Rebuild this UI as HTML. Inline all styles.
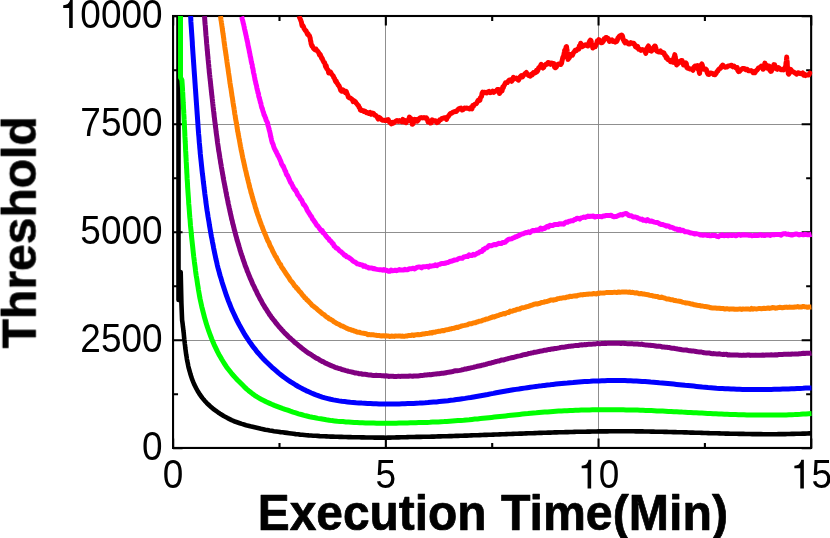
<!DOCTYPE html>
<html><head><meta charset="utf-8"><title>chart</title>
<style>
html,body{margin:0;padding:0;background:#fff;}
body{width:830px;height:538px;overflow:hidden;font-family:"Liberation Sans",sans-serif;}
svg{display:block;}
</style></head>
<body>
<svg width="830" height="538" viewBox="0 0 830 538">
<rect width="830" height="538" fill="#ffffff"/>
<defs><clipPath id="c"><rect x="171.85000000000002" y="16.0" width="640.3999999999999" height="431.95"/></clipPath></defs>
<path d="M385.5,16.0 V447.95 M598.5,16.0 V447.95 M173.05,124.5 H811.15 M173.05,232.5 H811.15 M173.05,340.5 H811.15" stroke="#828282" stroke-width="0.9" fill="none"/>
<path d="M173.15,447.95 v-9.5 M173.15,16.0 v9.5 M279.50,447.95 v-5.0 M279.50,16.0 v5.0 M385.85,447.95 v-9.5 M385.85,16.0 v9.5 M492.20,447.95 v-5.0 M492.20,16.0 v5.0 M598.55,447.95 v-9.5 M598.55,16.0 v9.5 M704.90,447.95 v-5.0 M704.90,16.0 v5.0 M811.25,447.95 v-9.5 M811.25,16.0 v9.5 M173.05,448.25 h9.5 M811.15,448.25 h-9.5 M173.05,394.26 h5.0 M811.15,394.26 h-5.0 M173.05,340.26 h9.5 M811.15,340.26 h-9.5 M173.05,286.27 h5.0 M811.15,286.27 h-5.0 M173.05,232.28 h9.5 M811.15,232.28 h-9.5 M173.05,178.28 h5.0 M811.15,178.28 h-5.0 M173.05,124.29 h9.5 M811.15,124.29 h-9.5 M173.05,70.29 h5.0 M811.15,70.29 h-5.0 M173.05,16.30 h9.5 M811.15,16.30 h-9.5" stroke="#000" stroke-width="2.1" fill="none"/>
<rect x="173.05" y="16.0" width="638.10" height="431.95" fill="none" stroke="#000" stroke-width="2.1"/>
<g clip-path="url(#c)" fill="none" stroke-linejoin="round" stroke-linecap="butt">
<path d="M178.5,10.0 L178.5,300.0 L180.7,272.0 L181.4,303.0 L182.1,320.1 L182.4,322.2 L182.7,324.3 L182.9,326.4 L183.2,328.5 L183.4,330.7 L183.7,332.8 L183.9,335.0 L184.1,337.2 L184.3,339.3 L184.6,341.5 L184.8,343.7 L185.1,345.9 L185.3,348.1 L185.6,350.3 L185.9,352.5 L186.2,354.7 L186.6,356.9 L186.9,359.1 L187.3,361.3 L187.8,363.5 L188.2,365.7 L188.7,367.9 L189.3,370.0 L189.9,372.2 L190.5,374.3 L191.2,376.5 L191.9,378.6 L192.7,380.7 L193.5,382.7 L194.4,384.8 L195.4,386.8 L196.4,388.7 L197.5,390.7 L198.6,392.5 L199.8,394.4 L201.0,396.1 L202.3,397.9 L203.7,399.6 L205.1,401.2 L206.6,402.8 L208.1,404.3 L209.7,405.8 L211.3,407.2 L212.9,408.6 L214.6,409.9 L216.4,411.2 L218.2,412.5 L220.0,413.7 L221.8,414.8 L223.7,416.0 L225.6,417.0 L227.6,418.1 L229.6,419.1 L231.6,420.1 L233.6,421.0 L235.6,421.8 L237.7,422.5 L239.8,423.2 L241.8,423.9 L243.9,424.5 L246.1,425.2 L248.2,425.7 L250.3,426.3 L252.5,426.8 L254.6,427.3 L256.7,427.8 L258.9,428.3 L261.0,428.8 L263.2,429.2 L265.3,429.7 L267.5,430.1 L269.6,430.5 L271.8,430.8 L274.0,431.2 L276.1,431.5 L278.3,431.8 L280.5,432.1 L282.6,432.3 L284.8,432.6 L287.0,432.9 L289.2,433.2 L291.4,433.5 L293.5,433.8 L295.7,434.1 L297.9,434.3 L300.1,434.6 L302.3,434.8 L304.5,435.0 L306.7,435.2 L308.8,435.4 L311.0,435.5 L313.2,435.7 L315.4,435.8 L317.6,435.9 L319.8,436.1 L322.0,436.2 L324.2,436.3 L326.4,436.4 L328.6,436.5 L330.8,436.6 L333.0,436.6 L335.2,436.7 L337.4,436.8 L339.6,436.9 L341.7,436.9 L343.9,437.0 L346.1,437.0 L348.3,437.1 L350.5,437.1 L352.7,437.2 L354.9,437.2 L357.1,437.3 L359.3,437.3 L361.5,437.4 L363.7,437.4 L365.9,437.5 L368.1,437.5 L370.3,437.5 L372.5,437.5 L374.7,437.6 L376.9,437.6 L379.1,437.6 L381.3,437.6 L383.5,437.6 L385.7,437.7 L387.9,437.6 L390.0,437.6 L392.2,437.5 L394.4,437.5 L396.6,437.4 L398.8,437.4 L401.0,437.3 L403.2,437.2 L405.4,437.2 L407.6,437.1 L409.8,437.0 L412.0,437.0 L414.2,437.0 L416.4,436.9 L418.6,436.9 L420.8,436.9 L423.0,436.8 L425.2,436.8 L427.4,436.7 L429.6,436.7 L431.8,436.6 L433.9,436.6 L436.1,436.5 L438.3,436.4 L440.5,436.4 L442.7,436.3 L444.9,436.3 L447.1,436.2 L449.3,436.1 L451.5,436.1 L453.7,436.0 L455.9,435.9 L458.1,435.9 L460.3,435.8 L462.5,435.7 L464.7,435.6 L466.9,435.6 L469.1,435.5 L471.3,435.4 L473.5,435.3 L475.6,435.3 L477.8,435.2 L480.0,435.1 L482.2,435.0 L484.4,434.9 L486.6,434.9 L488.8,434.8 L491.0,434.7 L493.2,434.6 L495.4,434.5 L497.6,434.5 L499.8,434.4 L502.0,434.3 L504.2,434.2 L506.4,434.1 L508.6,434.0 L510.8,434.0 L513.0,433.9 L515.1,433.8 L517.3,433.7 L519.5,433.6 L521.7,433.6 L523.9,433.5 L526.1,433.4 L528.3,433.3 L530.5,433.2 L532.7,433.2 L534.9,433.1 L537.1,433.0 L539.3,432.9 L541.5,432.9 L543.7,432.8 L545.9,432.7 L548.1,432.6 L550.3,432.6 L552.5,432.5 L554.6,432.4 L556.8,432.4 L559.0,432.3 L561.2,432.2 L563.4,432.2 L565.6,432.1 L567.8,432.1 L570.0,432.0 L572.2,432.0 L574.4,431.9 L576.6,431.8 L578.8,431.8 L581.0,431.7 L583.2,431.7 L585.4,431.7 L587.6,431.6 L589.8,431.6 L592.0,431.5 L594.2,431.5 L596.3,431.5 L598.5,431.4 L600.7,431.4 L602.9,431.4 L605.1,431.4 L607.3,431.4 L609.5,431.3 L611.7,431.3 L613.9,431.3 L616.1,431.3 L618.3,431.3 L620.5,431.3 L622.7,431.3 L624.9,431.3 L627.1,431.3 L629.3,431.3 L631.5,431.3 L633.7,431.3 L635.9,431.4 L638.1,431.4 L640.2,431.4 L642.4,431.4 L644.6,431.5 L646.8,431.5 L649.0,431.5 L651.2,431.6 L653.4,431.6 L655.6,431.7 L657.8,431.7 L660.0,431.8 L662.2,431.8 L664.4,431.9 L666.6,431.9 L668.8,432.0 L671.0,432.0 L673.2,432.1 L675.4,432.1 L677.6,432.2 L679.8,432.3 L682.0,432.3 L684.2,432.4 L686.4,432.4 L688.5,432.5 L690.7,432.6 L692.9,432.6 L695.1,432.7 L697.3,432.8 L699.5,432.8 L701.7,432.9 L703.9,433.0 L706.1,433.0 L708.3,433.1 L710.5,433.2 L712.7,433.2 L714.9,433.3 L717.1,433.3 L719.3,433.4 L721.5,433.5 L723.7,433.5 L725.9,433.6 L728.1,433.6 L730.3,433.7 L732.5,433.7 L734.7,433.8 L736.9,433.8 L739.0,433.9 L741.2,433.9 L743.4,433.9 L745.6,434.0 L747.8,434.0 L750.0,434.0 L752.2,434.1 L754.4,434.1 L756.6,434.1 L758.8,434.1 L761.0,434.1 L763.2,434.2 L765.4,434.2 L767.6,434.2 L769.8,434.2 L772.0,434.2 L774.2,434.2 L776.4,434.2 L778.6,434.1 L780.8,434.1 L783.0,434.1 L785.2,434.1 L787.3,434.0 L789.5,434.0 L791.7,433.9 L793.9,433.9 L796.1,433.8 L798.3,433.8 L800.5,433.7 L802.7,433.6 L804.9,433.6 L807.1,433.5 L809.3,433.4 L811.5,433.3" stroke="#000000" stroke-width="4.6"/>
<path d="M180.5,10.0 L180.5,77.5 L181.9,79.9 L182.1,82.7 L182.3,85.6 L182.5,88.4 L182.6,91.2 L182.8,94.0 L182.9,96.8 L183.1,99.7 L183.2,102.5 L183.4,105.3 L183.5,108.1 L183.7,110.9 L183.8,113.7 L184.0,116.6 L184.1,119.4 L184.3,122.2 L184.4,125.0 L184.5,127.8 L184.7,130.6 L184.8,133.4 L184.9,136.2 L185.1,139.0 L185.2,141.8 L185.4,144.6 L185.5,147.4 L185.6,150.2 L185.8,153.0 L185.9,155.8 L186.1,158.6 L186.2,161.4 L186.4,164.2 L186.5,167.0 L186.7,169.8 L186.8,172.6 L187.0,175.4 L187.1,178.2 L187.3,181.0 L187.5,183.8 L187.6,186.6 L187.8,189.4 L188.0,192.2 L188.2,195.0 L188.4,197.8 L188.6,200.6 L188.7,203.4 L189.0,206.2 L189.2,209.0 L189.4,211.8 L189.6,214.6 L189.8,217.3 L190.1,220.1 L190.3,222.9 L190.5,225.7 L190.8,228.5 L191.1,231.3 L191.3,234.1 L191.6,236.9 L191.9,239.7 L192.2,242.5 L192.5,245.3 L192.8,248.1 L193.1,250.9 L193.4,253.7 L193.7,256.5 L194.1,259.3 L194.4,262.1 L194.8,264.9 L195.2,267.7 L195.5,270.5 L195.9,273.3 L196.3,276.1 L196.8,278.9 L197.2,281.7 L197.6,284.5 L198.1,287.3 L198.5,290.1 L199.0,292.9 L199.5,295.7 L200.0,298.5 L200.6,301.2 L201.2,304.0 L201.8,306.8 L202.5,309.5 L203.2,312.3 L203.9,315.0 L204.6,317.8 L205.4,320.5 L206.2,323.2 L207.0,325.9 L207.9,328.5 L208.8,331.2 L209.8,333.9 L210.8,336.5 L211.8,339.1 L212.9,341.7 L214.0,344.3 L215.2,346.8 L216.4,349.4 L217.6,351.9 L218.9,354.4 L220.3,356.8 L221.7,359.3 L223.2,361.7 L224.7,364.1 L226.2,366.4 L227.9,368.7 L229.7,371.0 L231.5,373.3 L233.4,375.5 L235.3,377.6 L237.2,379.7 L239.3,381.8 L241.3,383.8 L243.1,385.6 L244.9,387.4 L246.7,389.1 L248.6,390.7 L250.6,392.3 L252.6,393.9 L254.6,395.3 L256.7,396.7 L259.1,398.1 L261.6,399.5 L264.1,400.7 L266.6,402.0 L269.1,403.1 L271.7,404.3 L274.3,405.4 L276.9,406.4 L279.6,407.4 L282.3,408.4 L285.0,409.3 L287.7,410.2 L290.4,411.2 L293.1,412.1 L295.8,412.9 L298.6,413.8 L301.3,414.5 L304.1,415.3 L306.8,416.0 L309.6,416.7 L312.4,417.3 L315.1,417.8 L317.9,418.4 L320.7,418.8 L323.5,419.3 L326.3,419.8 L329.1,420.2 L331.8,420.6 L334.6,420.9 L337.4,421.2 L340.2,421.4 L343.0,421.6 L345.8,421.9 L348.6,422.0 L351.4,422.2 L354.2,422.4 L357.0,422.5 L359.8,422.7 L362.6,422.8 L365.4,422.9 L368.2,423.0 L371.0,423.1 L373.8,423.1 L376.6,423.2 L379.4,423.2 L382.2,423.3 L385.0,423.3 L387.8,423.3 L390.6,423.3 L393.4,423.2 L396.2,423.2 L399.0,423.1 L401.8,423.1 L404.7,423.0 L407.5,422.9 L410.3,422.8 L413.1,422.8 L415.9,422.7 L418.7,422.6 L421.5,422.6 L424.3,422.5 L427.1,422.4 L429.9,422.3 L432.7,422.1 L435.5,422.0 L438.3,421.9 L441.2,421.7 L444.0,421.6 L446.8,421.4 L449.6,421.2 L452.4,421.0 L455.2,420.8 L458.0,420.6 L460.8,420.4 L463.6,420.2 L466.4,419.9 L469.2,419.7 L472.0,419.4 L474.8,419.1 L477.6,418.9 L480.4,418.6 L483.2,418.3 L486.0,418.0 L488.8,417.7 L491.6,417.4 L494.3,417.1 L497.1,416.8 L499.9,416.5 L502.7,416.2 L505.5,415.9 L508.3,415.6 L511.1,415.3 L513.9,415.0 L516.7,414.7 L519.5,414.4 L522.3,414.1 L525.1,413.8 L527.9,413.6 L530.7,413.3 L533.5,413.0 L536.3,412.8 L539.1,412.5 L541.9,412.3 L544.7,412.1 L547.5,411.9 L550.3,411.7 L553.1,411.5 L555.9,411.3 L558.7,411.1 L561.5,410.9 L564.3,410.8 L567.1,410.7 L569.9,410.5 L572.7,410.4 L575.5,410.3 L578.4,410.2 L581.2,410.1 L584.0,410.0 L586.8,409.9 L589.6,409.9 L592.4,409.8 L595.2,409.8 L598.0,409.7 L600.8,409.7 L603.6,409.7 L606.5,409.7 L609.3,409.7 L612.1,409.7 L614.9,409.7 L617.7,409.7 L620.5,409.8 L623.3,409.8 L626.1,409.9 L628.9,409.9 L631.7,410.0 L634.6,410.1 L637.4,410.1 L640.2,410.2 L643.0,410.3 L645.8,410.4 L648.6,410.5 L651.4,410.6 L654.2,410.7 L657.0,410.9 L659.8,411.0 L662.6,411.1 L665.5,411.2 L668.3,411.4 L671.1,411.5 L673.9,411.7 L676.7,411.8 L679.5,411.9 L682.3,412.1 L685.1,412.2 L687.9,412.4 L690.7,412.5 L693.5,412.7 L696.3,412.8 L699.1,413.0 L701.9,413.1 L704.7,413.2 L707.6,413.4 L710.4,413.5 L713.2,413.7 L716.0,413.8 L718.8,413.9 L721.6,414.0 L724.4,414.2 L727.2,414.3 L730.0,414.4 L732.8,414.5 L735.6,414.6 L738.4,414.7 L741.2,414.8 L744.0,414.8 L746.9,414.9 L749.7,415.0 L752.5,415.0 L755.3,415.1 L758.1,415.1 L760.9,415.1 L763.7,415.1 L766.5,415.1 L769.3,415.1 L772.1,415.1 L774.9,415.1 L777.8,415.1 L780.6,415.0 L783.4,414.9 L786.2,414.9 L789.0,414.8 L791.8,414.7 L794.6,414.6 L797.4,414.4 L800.3,414.3 L803.1,414.1 L805.9,414.0 L808.7,413.8 L811.5,413.6" stroke="#00ff00" stroke-width="5.0"/>
<path d="M190.6,16.0 L190.8,19.0 L190.9,21.9 L191.1,24.8 L191.3,27.7 L191.5,30.6 L191.7,33.5 L191.9,36.4 L192.1,39.3 L192.3,42.2 L192.4,45.1 L192.6,48.0 L192.8,50.9 L193.0,53.8 L193.2,56.7 L193.4,59.6 L193.6,62.5 L193.8,65.3 L194.0,68.2 L194.2,71.1 L194.4,74.0 L194.6,76.8 L194.8,79.7 L195.0,82.6 L195.2,85.4 L195.4,88.3 L195.6,91.2 L195.8,94.0 L196.0,96.9 L196.2,99.7 L196.4,102.6 L196.6,105.4 L196.8,108.3 L197.0,111.1 L197.2,114.0 L197.4,116.8 L197.6,119.7 L197.8,122.5 L198.0,125.4 L198.2,128.2 L198.4,131.1 L198.6,133.9 L198.9,136.8 L199.1,139.6 L199.3,142.4 L199.6,145.3 L199.8,148.1 L200.1,151.0 L200.3,153.8 L200.6,156.7 L200.9,159.5 L201.2,162.3 L201.5,165.2 L201.8,168.0 L202.1,170.9 L202.4,173.7 L202.8,176.6 L203.1,179.4 L203.4,182.2 L203.8,185.1 L204.1,187.9 L204.5,190.8 L204.8,193.6 L205.2,196.5 L205.6,199.3 L205.9,202.2 L206.3,205.0 L206.7,207.9 L207.1,210.7 L207.6,213.6 L208.0,216.4 L208.5,219.3 L209.0,222.2 L209.4,225.0 L209.9,227.9 L210.4,230.7 L210.9,233.6 L211.4,236.5 L212.0,239.3 L212.5,242.2 L213.1,245.1 L213.6,247.9 L214.2,250.8 L214.8,253.7 L215.4,256.5 L216.0,259.4 L216.7,262.2 L217.3,265.1 L218.0,267.9 L218.8,270.7 L219.5,273.5 L220.3,276.3 L221.2,279.1 L222.0,281.9 L222.9,284.7 L223.8,287.5 L224.7,290.2 L225.6,293.0 L226.5,295.7 L227.5,298.4 L228.5,301.1 L229.6,303.8 L230.6,306.4 L231.7,309.1 L232.9,311.7 L234.1,314.3 L235.3,316.9 L236.5,319.5 L237.8,322.0 L239.1,324.5 L240.5,327.0 L241.9,329.5 L243.3,332.0 L244.7,334.4 L246.2,336.8 L247.8,339.1 L249.3,341.5 L251.0,343.8 L252.6,346.1 L254.4,348.3 L256.1,350.6 L257.9,352.8 L259.8,354.9 L261.7,357.1 L263.7,359.2 L265.7,361.2 L267.8,363.2 L269.9,365.2 L272.0,367.3 L274.2,369.2 L276.5,371.2 L278.7,373.1 L281.1,375.0 L283.4,376.8 L285.8,378.5 L288.2,380.2 L290.7,381.9 L293.2,383.4 L295.7,385.0 L298.2,386.5 L300.8,387.9 L303.4,389.3 L306.0,390.6 L308.7,391.8 L311.4,393.0 L314.1,394.1 L316.8,395.2 L319.5,396.2 L322.2,397.1 L325.0,397.9 L327.8,398.6 L330.6,399.3 L333.4,399.9 L336.2,400.4 L339.0,400.9 L341.8,401.3 L344.7,401.6 L347.5,401.9 L350.4,402.2 L353.2,402.4 L356.1,402.7 L359.0,402.9 L361.8,403.1 L364.7,403.2 L367.6,403.4 L370.4,403.5 L373.3,403.7 L376.2,403.8 L379.0,403.9 L381.9,404.0 L384.8,404.0 L387.7,404.1 L390.5,404.1 L393.4,404.0 L396.3,404.0 L399.2,403.9 L402.0,403.8 L404.9,403.7 L407.8,403.6 L410.6,403.5 L413.5,403.4 L416.4,403.2 L419.3,403.1 L422.1,402.9 L425.0,402.8 L427.9,402.6 L430.7,402.3 L433.6,402.1 L436.5,401.9 L439.3,401.6 L442.2,401.3 L445.1,401.0 L447.9,400.7 L450.8,400.3 L453.6,400.0 L456.5,399.6 L459.3,399.2 L462.2,398.8 L465.0,398.4 L467.9,397.9 L470.7,397.5 L473.6,397.0 L476.4,396.5 L479.2,396.0 L482.1,395.5 L484.9,395.0 L487.7,394.5 L490.5,393.9 L493.4,393.4 L496.2,392.8 L499.0,392.3 L501.8,391.8 L504.7,391.3 L507.5,390.8 L510.3,390.3 L513.2,389.8 L516.0,389.4 L518.8,389.0 L521.7,388.5 L524.5,388.1 L527.3,387.7 L530.2,387.3 L533.0,386.9 L535.9,386.5 L538.7,386.1 L541.6,385.8 L544.4,385.4 L547.3,385.1 L550.2,384.8 L553.0,384.4 L555.9,384.1 L558.7,383.8 L561.6,383.5 L564.5,383.2 L567.3,383.0 L570.2,382.7 L573.1,382.5 L576.0,382.2 L578.8,382.0 L581.7,381.8 L584.6,381.6 L587.5,381.4 L590.3,381.3 L593.2,381.1 L596.1,381.0 L599.0,380.9 L601.9,380.8 L604.7,380.7 L607.6,380.6 L610.5,380.6 L613.4,380.6 L616.2,380.6 L619.1,380.6 L622.0,380.6 L624.9,380.6 L627.7,380.7 L630.6,380.8 L633.5,380.9 L636.4,381.0 L639.2,381.2 L642.1,381.4 L645.0,381.5 L647.8,381.7 L650.7,382.0 L653.6,382.2 L656.4,382.4 L659.3,382.7 L662.2,382.9 L665.0,383.2 L667.9,383.5 L670.8,383.8 L673.6,384.1 L676.5,384.4 L679.4,384.7 L682.2,385.0 L685.1,385.3 L687.9,385.5 L690.8,385.8 L693.7,386.1 L696.5,386.4 L699.4,386.7 L702.3,387.0 L705.1,387.2 L708.0,387.5 L710.9,387.7 L713.7,387.9 L716.6,388.2 L719.5,388.4 L722.3,388.5 L725.2,388.7 L728.1,388.8 L731.0,389.0 L733.8,389.1 L736.7,389.2 L739.6,389.3 L742.5,389.4 L745.3,389.4 L748.2,389.5 L751.1,389.5 L754.0,389.5 L756.8,389.5 L759.7,389.5 L762.6,389.5 L765.5,389.5 L768.4,389.4 L771.2,389.4 L774.1,389.3 L777.0,389.2 L779.9,389.2 L782.7,389.1 L785.6,389.0 L788.5,388.9 L791.4,388.8 L794.3,388.7 L797.1,388.5 L800.0,388.4 L802.9,388.3 L805.8,388.1 L808.6,388.0 L811.5,387.9" stroke="#0000ff" stroke-width="5.0"/>
<path d="M204.5,16.1 L204.6,17.5 L204.7,19.0 L204.8,20.5 L204.9,21.9 L205.0,23.2 L205.1,24.5 L205.3,25.9 L205.4,27.5 L205.5,29.0 L205.6,30.2 L205.7,31.4 L205.8,32.9 L205.9,34.6 L206.0,35.8 L206.2,37.0 L206.3,38.5 L206.4,39.8 L206.5,41.3 L206.6,42.7 L206.7,44.0 L206.9,45.6 L207.0,46.9 L207.1,48.2 L207.2,49.8 L207.4,51.2 L207.5,52.3 L207.6,53.9 L207.7,55.2 L207.9,56.7 L208.0,57.9 L208.1,59.5 L208.3,60.9 L208.4,62.2 L208.5,63.5 L208.7,65.0 L208.8,66.3 L208.9,67.7 L209.1,69.3 L209.2,70.5 L209.3,72.2 L209.5,73.5 L209.6,74.6 L209.8,76.2 L209.9,77.5 L210.1,79.0 L210.2,80.4 L210.4,81.5 L210.5,83.1 L210.7,84.5 L210.8,86.1 L211.0,87.2 L211.1,88.8 L211.3,90.0 L211.4,91.5 L211.6,92.8 L211.7,94.5 L211.9,95.7 L212.1,97.4 L212.2,98.5 L212.4,100.0 L212.5,101.3 L212.7,102.6 L212.8,104.0 L213.0,105.6 L213.1,106.8 L213.3,108.2 L213.4,109.6 L213.6,111.1 L213.8,112.3 L213.9,113.7 L214.1,115.2 L214.2,116.6 L214.4,117.8 L214.6,119.4 L214.7,120.6 L214.9,122.0 L215.1,123.3 L215.3,125.0 L215.4,126.2 L215.6,127.5 L215.8,128.9 L216.0,130.5 L216.1,131.7 L216.3,133.1 L216.5,134.7 L216.7,135.8 L216.9,137.3 L217.1,138.8 L217.2,140.1 L217.4,141.5 L217.6,143.1 L217.8,144.3 L218.0,145.6 L218.2,146.9 L218.4,148.4 L218.6,149.8 L218.8,151.3 L219.1,152.6 L219.3,153.9 L219.5,155.3 L219.7,156.7 L219.9,158.2 L220.2,159.5 L220.4,160.9 L220.6,162.5 L220.8,163.7 L221.1,164.9 L221.3,166.6 L221.5,167.9 L221.8,169.1 L222.0,170.7 L222.3,172.0 L222.5,173.3 L222.7,174.6 L223.0,176.0 L223.2,177.5 L223.5,179.0 L223.7,180.2 L224.0,181.7 L224.3,183.2 L224.5,184.2 L224.8,185.8 L225.0,187.1 L225.3,188.4 L225.6,189.7 L225.8,191.2 L226.1,192.7 L226.4,193.9 L226.6,195.4 L226.9,196.8 L227.2,198.1 L227.5,199.6 L227.8,200.9 L228.0,202.3 L228.3,203.8 L228.6,205.0 L228.9,206.3 L229.2,207.8 L229.5,208.9 L229.8,210.4 L230.1,211.9 L230.4,213.2 L230.7,214.7 L231.0,215.9 L231.3,217.1 L231.6,218.9 L232.0,220.1 L232.3,221.2 L232.6,222.9 L232.9,224.1 L233.3,225.2 L233.6,226.7 L234.0,228.1 L234.3,229.7 L234.7,230.8 L235.0,232.2 L235.4,233.5 L235.7,234.9 L236.1,236.2 L236.5,237.6 L236.8,239.1 L237.2,240.4 L237.6,241.6 L238.0,242.9 L238.4,244.4 L238.8,245.6 L239.2,247.0 L239.6,248.2 L240.0,250.0 L240.4,251.2 L240.8,252.3 L241.2,253.8 L241.7,255.2 L242.1,256.1 L242.5,257.6 L243.0,259.0 L243.4,260.4 L243.9,261.7 L244.4,263.0 L244.8,264.3 L245.3,265.9 L245.8,267.2 L246.3,268.2 L246.8,269.5 L247.3,271.2 L247.8,272.1 L248.3,273.4 L248.8,274.8 L249.4,276.1 L249.9,277.5 L250.4,278.7 L251.0,279.8 L251.6,281.3 L252.1,282.5 L252.7,284.0 L253.3,285.1 L253.9,286.2 L254.5,287.5 L255.1,289.0 L255.7,290.1 L256.3,291.1 L256.9,292.6 L257.5,293.9 L258.2,295.3 L258.8,296.3 L259.5,297.7 L260.1,299.0 L260.8,300.0 L261.5,301.3 L262.2,302.7 L262.9,304.0 L263.6,305.1 L264.3,306.2 L265.0,307.5 L265.7,308.5 L266.5,309.7 L267.2,310.8 L268.0,312.1 L268.8,313.2 L269.6,314.7 L270.4,315.5 L271.2,316.9 L272.0,318.0 L272.8,318.9 L273.7,320.2 L274.5,320.9 L275.4,322.3 L276.3,323.5 L277.1,324.2 L278.0,325.4 L278.9,326.7 L279.9,327.6 L280.8,328.6 L281.7,329.7 L282.7,330.7 L283.7,331.9 L284.6,332.9 L285.6,333.8 L286.6,334.7 L287.6,335.8 L288.6,336.9 L289.6,337.7 L290.7,338.7 L291.7,339.6 L292.7,340.4 L293.8,341.4 L294.8,342.5 L295.9,343.3 L296.9,344.1 L298.0,344.9 L299.1,346.0 L300.2,346.8 L301.3,347.7 L302.4,348.6 L303.5,349.5 L304.6,350.3 L305.8,351.2 L306.9,352.0 L308.1,352.9 L309.2,353.6 L310.4,354.2 L311.6,355.0 L312.7,355.8 L313.9,356.5 L315.1,357.3 L316.3,358.1 L317.5,358.6 L318.7,359.2 L320.0,360.2 L321.2,360.8 L322.4,361.5 L323.7,361.9 L324.9,362.9 L326.2,363.4 L327.4,363.9 L328.7,364.5 L329.9,365.2 L331.2,365.7 L332.5,366.2 L333.8,366.6 L335.1,367.4 L336.4,367.7 L337.8,368.2 L339.1,368.6 L340.4,368.8 L341.8,369.5 L343.1,369.8 L344.5,370.2 L345.8,370.6 L347.2,370.9 L348.5,371.4 L349.9,371.6 L351.2,371.9 L352.6,372.2 L354.0,372.6 L355.3,373.0 L356.7,373.1 L358.1,373.3 L359.5,373.8 L360.9,373.7 L362.2,374.2 L363.6,374.2 L365.0,374.3 L366.4,374.5 L367.8,374.8 L369.2,375.0 L370.6,375.0 L372.0,375.3 L373.4,375.5 L374.8,375.4 L376.2,375.3 L377.6,375.4 L379.0,375.5 L380.4,375.6 L381.8,375.7 L383.2,375.7 L384.6,376.0 L386.0,375.7 L387.3,375.9 L388.7,376.4 L390.1,376.3 L391.5,376.3 L392.9,376.3 L394.3,376.5 L395.7,376.4 L397.1,376.4 L398.5,376.2 L399.9,376.4 L401.3,376.3 L402.7,376.3 L404.1,376.3 L405.5,376.3 L406.9,376.2 L408.3,376.3 L409.7,376.0 L411.1,376.1 L412.5,376.3 L413.9,376.0 L415.3,376.1 L416.7,376.0 L418.1,375.9 L419.5,375.8 L420.9,375.4 L422.3,375.4 L423.7,375.3 L425.1,375.0 L426.5,375.0 L427.9,374.8 L429.3,374.6 L430.7,374.7 L432.1,374.5 L433.5,374.3 L434.9,374.1 L436.2,374.0 L437.6,373.8 L439.0,373.7 L440.4,373.5 L441.8,373.3 L443.2,373.2 L444.6,373.0 L446.0,372.8 L447.3,372.4 L448.7,372.2 L450.1,372.1 L451.5,371.8 L452.9,371.6 L454.2,371.0 L455.6,370.7 L457.0,370.8 L458.4,370.6 L459.7,370.4 L461.1,370.1 L462.5,369.7 L463.9,369.4 L465.2,369.0 L466.6,368.9 L468.0,368.5 L469.3,368.3 L470.7,367.9 L472.0,367.6 L473.4,367.4 L474.8,366.9 L476.1,366.6 L477.5,366.2 L478.9,365.9 L480.2,365.8 L481.6,365.3 L482.9,365.1 L484.3,364.7 L485.7,364.4 L487.0,364.0 L488.4,363.5 L489.7,363.3 L491.1,363.1 L492.4,362.5 L493.8,362.2 L495.1,361.8 L496.5,361.5 L497.9,361.0 L499.2,361.0 L500.6,360.4 L501.9,359.9 L503.3,360.0 L504.6,359.6 L506.0,359.2 L507.4,358.8 L508.7,358.4 L510.1,358.1 L511.4,357.8 L512.8,357.5 L514.2,357.2 L515.5,356.8 L516.9,356.4 L518.2,356.1 L519.6,355.9 L521.0,355.6 L522.3,355.1 L523.7,354.7 L525.1,354.6 L526.4,354.3 L527.8,353.9 L529.1,353.4 L530.5,353.2 L531.9,352.9 L533.2,352.7 L534.6,352.2 L536.0,352.2 L537.4,351.8 L538.7,351.6 L540.1,351.1 L541.5,350.9 L542.8,350.8 L544.2,350.2 L545.6,350.2 L547.0,350.0 L548.3,349.5 L549.7,349.5 L551.1,349.1 L552.5,349.0 L553.9,348.7 L555.2,348.4 L556.6,348.4 L558.0,348.1 L559.4,347.9 L560.8,347.4 L562.2,347.2 L563.5,347.2 L564.9,347.0 L566.3,346.7 L567.7,346.6 L569.1,346.2 L570.5,346.2 L571.9,345.9 L573.3,345.9 L574.6,345.6 L576.0,345.4 L577.4,345.4 L578.8,345.4 L580.2,344.9 L581.6,344.8 L583.0,344.9 L584.4,344.6 L585.8,344.7 L587.2,344.4 L588.6,344.3 L590.0,344.2 L591.4,344.3 L592.8,344.1 L594.2,344.0 L595.6,343.9 L597.0,343.6 L598.4,343.6 L599.8,343.8 L601.2,343.6 L602.6,343.5 L604.0,343.5 L605.4,343.3 L606.8,343.4 L608.2,343.2 L609.6,343.3 L611.0,343.2 L612.4,343.2 L613.8,343.3 L615.2,343.2 L616.6,343.3 L618.0,343.3 L619.4,343.3 L620.8,343.5 L622.2,343.2 L623.5,343.2 L624.9,343.5 L626.3,343.6 L627.7,343.8 L629.1,343.7 L630.5,343.8 L631.9,343.6 L633.3,343.9 L634.7,344.0 L636.1,343.9 L637.5,344.0 L638.9,344.2 L640.3,344.4 L641.7,344.1 L643.1,344.6 L644.5,344.8 L645.9,344.9 L647.3,345.1 L648.7,345.2 L650.1,345.2 L651.5,345.5 L652.9,345.6 L654.2,345.7 L655.6,346.0 L657.0,346.3 L658.4,346.1 L659.8,346.3 L661.2,346.5 L662.6,347.1 L664.0,347.0 L665.4,347.2 L666.7,347.3 L668.1,347.5 L669.5,347.6 L670.9,348.0 L672.3,348.2 L673.7,348.2 L675.1,348.5 L676.4,348.7 L677.8,349.0 L679.2,349.2 L680.6,349.5 L682.0,349.8 L683.4,349.9 L684.8,350.1 L686.1,350.0 L687.5,350.3 L688.9,350.7 L690.3,350.8 L691.7,351.0 L693.1,350.9 L694.5,351.1 L695.9,351.6 L697.2,351.7 L698.6,351.9 L700.0,352.0 L701.4,352.0 L702.8,352.5 L704.2,352.7 L705.6,352.9 L707.0,352.9 L708.4,353.0 L709.7,353.1 L711.1,353.5 L712.5,353.7 L713.9,353.6 L715.3,353.8 L716.7,353.9 L718.1,354.0 L719.5,353.8 L720.9,354.2 L722.3,354.4 L723.7,354.3 L725.1,354.4 L726.5,354.2 L727.9,354.9 L729.3,354.8 L730.7,354.9 L732.1,354.9 L733.5,354.9 L734.9,355.0 L736.3,355.0 L737.7,355.1 L739.1,355.2 L740.5,355.2 L741.9,355.4 L743.3,355.1 L744.7,355.3 L746.1,355.2 L747.5,355.1 L748.9,355.0 L750.3,355.4 L751.7,355.2 L753.1,355.2 L754.5,355.3 L755.9,355.1 L757.3,355.3 L758.7,355.2 L760.1,355.3 L761.5,355.3 L762.9,355.0 L764.3,355.2 L765.7,355.1 L767.1,355.1 L768.5,355.0 L769.9,355.1 L771.3,354.8 L772.7,354.9 L774.1,355.0 L775.5,354.7 L776.9,355.0 L778.3,354.6 L779.7,354.6 L781.1,354.5 L782.5,354.4 L783.9,354.3 L785.3,354.3 L786.7,354.3 L788.1,354.1 L789.5,354.3 L790.9,354.3 L792.3,353.9 L793.6,354.1 L795.0,353.9 L796.4,353.9 L797.8,354.1 L799.2,353.8 L800.6,353.7 L802.0,353.6 L803.4,353.2 L804.8,353.5 L806.2,353.3 L807.6,353.3 L809.0,353.2 L810.4,353.3 L811.5,353.1" stroke="#800080" stroke-width="5.0"/>
<path d="M220.5,16.1 L220.7,17.6 L220.9,19.3 L221.1,20.5 L221.3,21.4 L221.5,23.1 L221.7,24.4 L221.9,25.9 L222.1,27.0 L222.3,28.7 L222.5,30.1 L222.7,31.8 L222.9,32.9 L223.1,34.3 L223.3,35.3 L223.5,37.4 L223.7,38.0 L223.9,40.0 L224.0,41.1 L224.2,42.4 L224.4,43.8 L224.6,45.2 L224.8,46.8 L225.0,48.1 L225.2,49.8 L225.4,50.5 L225.6,52.2 L225.8,53.5 L226.0,55.2 L226.2,56.0 L226.4,57.7 L226.6,59.2 L226.8,60.3 L227.0,62.1 L227.2,63.4 L227.4,64.9 L227.6,66.3 L227.8,67.3 L228.0,68.7 L228.2,70.2 L228.4,71.8 L228.6,73.2 L228.8,74.3 L229.0,75.7 L229.2,77.0 L229.4,78.5 L229.6,79.9 L229.8,81.3 L230.0,83.1 L230.2,84.0 L230.4,85.4 L230.6,87.0 L230.9,88.1 L231.1,89.6 L231.3,91.0 L231.5,92.6 L231.7,93.5 L231.9,95.5 L232.1,96.5 L232.4,98.0 L232.6,99.5 L232.8,100.8 L233.0,102.3 L233.2,103.5 L233.4,104.9 L233.6,106.3 L233.9,107.4 L234.1,109.3 L234.3,110.2 L234.5,111.5 L234.7,113.6 L234.9,114.5 L235.2,115.7 L235.4,117.7 L235.6,118.6 L235.8,120.3 L236.1,121.3 L236.3,122.8 L236.5,123.9 L236.8,125.2 L237.0,126.8 L237.2,128.3 L237.5,129.9 L237.7,131.6 L238.0,132.3 L238.2,134.1 L238.4,135.1 L238.7,136.6 L238.9,137.7 L239.2,139.1 L239.5,140.6 L239.7,141.9 L240.0,143.5 L240.2,144.7 L240.5,146.5 L240.8,147.7 L241.0,149.0 L241.3,150.6 L241.6,151.9 L241.9,153.1 L242.1,154.5 L242.4,155.8 L242.7,157.5 L243.0,158.8 L243.3,160.1 L243.6,161.5 L243.9,162.6 L244.2,164.2 L244.5,165.2 L244.8,167.1 L245.1,168.2 L245.4,169.6 L245.8,171.0 L246.1,172.3 L246.4,173.6 L246.7,175.2 L247.0,176.4 L247.4,177.5 L247.7,179.2 L248.0,180.1 L248.4,182.1 L248.7,183.1 L249.1,184.5 L249.4,186.3 L249.8,187.7 L250.1,188.6 L250.5,190.1 L250.8,191.5 L251.2,193.0 L251.6,194.0 L251.9,195.4 L252.3,196.9 L252.7,198.1 L253.1,199.5 L253.4,200.9 L253.8,201.8 L254.2,203.2 L254.6,204.2 L255.0,206.0 L255.4,207.7 L255.9,208.6 L256.3,210.4 L256.7,211.6 L257.1,212.8 L257.5,214.1 L258.0,215.5 L258.5,216.6 L258.9,218.0 L259.4,219.4 L259.9,220.8 L260.3,222.2 L260.8,223.2 L261.3,224.8 L261.8,225.8 L262.3,227.2 L262.8,228.7 L263.3,229.9 L263.8,231.2 L264.4,232.5 L264.9,233.7 L265.4,234.9 L266.0,236.3 L266.5,237.8 L267.1,238.9 L267.7,240.6 L268.2,241.5 L268.8,242.2 L269.4,243.9 L270.0,245.6 L270.6,246.6 L271.2,247.7 L271.8,248.9 L272.5,250.6 L273.1,251.8 L273.7,253.0 L274.4,254.2 L275.0,255.6 L275.7,256.7 L276.4,257.5 L277.0,259.1 L277.7,260.2 L278.4,261.4 L279.1,262.8 L279.8,263.9 L280.6,264.5 L281.3,266.6 L282.0,267.6 L282.8,268.6 L283.5,269.7 L284.3,271.0 L285.0,271.9 L285.8,273.4 L286.6,274.4 L287.4,275.6 L288.2,276.6 L289.0,277.8 L289.8,279.3 L290.6,280.5 L291.5,281.4 L292.3,282.4 L293.1,283.4 L294.0,284.8 L294.8,286.1 L295.7,286.6 L296.6,288.2 L297.5,288.6 L298.4,290.1 L299.3,291.3 L300.2,292.0 L301.1,293.0 L302.0,294.4 L303.0,295.6 L303.9,296.4 L304.8,297.8 L305.8,298.4 L306.8,299.9 L307.8,300.5 L308.7,301.6 L309.7,302.6 L310.7,303.5 L311.7,304.8 L312.8,305.8 L313.8,306.5 L314.8,307.3 L315.9,308.0 L316.9,309.0 L318.0,310.1 L319.1,310.9 L320.2,311.8 L321.2,312.7 L322.3,313.7 L323.4,314.2 L324.6,315.1 L325.7,316.3 L326.8,317.1 L328.0,317.6 L329.1,318.8 L330.3,319.2 L331.5,320.0 L332.6,320.5 L333.8,321.7 L335.0,322.3 L336.3,323.2 L337.5,323.8 L338.7,324.3 L340.0,325.0 L341.2,325.8 L342.5,326.1 L343.7,326.7 L345.0,327.4 L346.3,328.1 L347.6,328.6 L348.9,329.3 L350.2,329.4 L351.5,330.2 L352.8,330.3 L354.2,331.0 L355.5,331.3 L356.9,332.0 L358.2,332.2 L359.6,332.3 L360.9,332.9 L362.3,333.1 L363.6,333.3 L365.0,333.6 L366.4,333.7 L367.8,334.7 L369.1,334.4 L370.5,334.8 L371.9,334.6 L373.3,334.8 L374.7,335.1 L376.1,335.3 L377.5,335.6 L378.9,335.4 L380.3,335.8 L381.7,336.1 L383.1,335.7 L384.5,336.1 L385.9,335.8 L387.3,336.1 L388.7,336.1 L390.1,336.5 L391.5,336.0 L392.9,336.2 L394.3,336.4 L395.7,335.9 L397.1,336.1 L398.5,335.9 L399.9,335.9 L401.3,336.2 L402.7,336.1 L404.1,336.4 L405.5,336.1 L406.8,336.0 L408.2,335.6 L409.6,335.5 L411.0,335.5 L412.4,334.9 L413.8,335.5 L415.2,334.9 L416.6,334.7 L418.0,334.6 L419.4,334.7 L420.8,334.6 L422.2,334.1 L423.6,334.1 L424.9,333.8 L426.3,333.4 L427.7,333.4 L429.1,333.2 L430.5,332.7 L431.9,333.0 L433.2,332.2 L434.6,332.3 L436.0,331.8 L437.4,331.6 L438.7,331.3 L440.1,331.3 L441.5,330.7 L442.9,330.6 L444.2,330.7 L445.6,329.9 L447.0,329.7 L448.3,329.6 L449.7,329.0 L451.1,328.9 L452.4,328.4 L453.8,328.3 L455.1,327.8 L456.5,327.3 L457.9,327.4 L459.2,326.8 L460.6,326.4 L461.9,325.9 L463.3,325.6 L464.6,325.4 L466.0,325.1 L467.3,324.9 L468.7,324.0 L470.0,323.8 L471.4,323.8 L472.7,323.2 L474.1,322.8 L475.4,322.7 L476.8,322.0 L478.1,321.7 L479.5,321.2 L480.8,321.1 L482.1,320.6 L483.5,319.9 L484.8,319.7 L486.2,319.0 L487.5,319.0 L488.8,318.5 L490.2,317.9 L491.5,317.5 L492.9,316.8 L494.2,316.9 L495.5,316.3 L496.9,315.8 L498.2,315.6 L499.5,314.9 L500.9,314.5 L502.2,314.1 L503.6,313.6 L504.9,313.9 L506.2,313.0 L507.6,312.5 L508.9,312.4 L510.2,311.1 L511.6,311.3 L512.9,310.9 L514.3,310.3 L515.6,310.2 L516.9,309.3 L518.3,309.3 L519.6,309.1 L521.0,308.1 L522.3,307.8 L523.6,307.7 L525.0,307.3 L526.3,306.8 L527.7,306.6 L529.0,306.2 L530.4,305.5 L531.7,305.3 L533.1,304.7 L534.4,304.2 L535.8,303.8 L537.1,304.1 L538.5,303.5 L539.8,303.5 L541.2,302.5 L542.5,302.4 L543.9,302.2 L545.2,301.7 L546.6,301.5 L548.0,301.1 L549.3,300.6 L550.7,300.0 L552.1,299.9 L553.4,300.2 L554.8,299.7 L556.2,299.5 L557.5,298.8 L558.9,298.6 L560.3,298.2 L561.6,298.2 L563.0,297.8 L564.4,297.7 L565.8,297.7 L567.1,296.9 L568.5,297.0 L569.9,296.3 L571.3,296.6 L572.7,296.1 L574.0,295.9 L575.4,295.8 L576.8,295.9 L578.2,295.3 L579.6,295.1 L581.0,294.7 L582.4,294.9 L583.8,294.5 L585.2,294.4 L586.5,294.3 L587.9,294.3 L589.3,293.9 L590.7,294.1 L592.1,294.1 L593.5,293.4 L594.9,293.8 L596.3,293.9 L597.7,293.2 L599.1,293.4 L600.5,292.9 L601.9,293.1 L603.3,292.9 L604.7,292.9 L606.1,292.6 L607.5,292.6 L608.9,292.6 L610.3,292.5 L611.7,292.4 L613.1,292.4 L614.5,292.2 L615.9,292.4 L617.3,292.4 L618.7,291.9 L620.1,292.3 L621.5,292.1 L622.9,292.0 L624.3,291.9 L625.7,292.0 L627.1,292.1 L628.5,292.3 L629.9,292.0 L631.3,292.6 L632.7,292.3 L634.1,292.7 L635.4,293.0 L636.8,292.7 L638.2,293.3 L639.6,293.8 L641.0,293.5 L642.4,293.9 L643.8,294.0 L645.1,294.3 L646.5,294.5 L647.9,294.7 L649.3,295.2 L650.6,295.4 L652.0,295.5 L653.4,296.1 L654.8,296.3 L656.1,296.5 L657.5,296.5 L658.9,297.3 L660.2,297.5 L661.6,297.1 L663.0,297.6 L664.4,298.0 L665.7,298.6 L667.1,299.0 L668.5,299.0 L669.8,299.4 L671.2,299.8 L672.6,299.7 L673.9,300.4 L675.3,300.5 L676.7,300.9 L678.0,301.1 L679.4,301.2 L680.8,301.5 L682.1,302.1 L683.5,302.4 L684.9,302.6 L686.2,303.1 L687.6,303.1 L689.0,303.3 L690.3,303.7 L691.7,304.0 L693.1,304.3 L694.5,304.8 L695.8,305.0 L697.2,305.3 L698.6,305.5 L700.0,305.6 L701.3,306.1 L702.7,306.1 L704.1,306.4 L705.5,306.4 L706.9,306.8 L708.3,306.9 L709.6,307.3 L711.0,307.8 L712.4,308.0 L713.8,308.0 L715.2,307.9 L716.6,308.2 L718.0,308.3 L719.4,308.2 L720.8,308.5 L722.2,308.5 L723.6,308.6 L725.0,309.1 L726.3,308.8 L727.7,308.8 L729.1,309.2 L730.5,308.9 L731.9,308.9 L733.3,309.0 L734.7,309.3 L736.1,309.3 L737.5,309.3 L738.9,309.1 L740.3,309.0 L741.7,309.4 L743.1,308.9 L744.5,309.1 L745.9,308.9 L747.3,309.0 L748.7,309.1 L750.1,309.3 L751.5,308.4 L752.9,309.2 L754.3,308.7 L755.7,308.9 L757.1,308.9 L758.5,308.6 L759.9,308.6 L761.3,308.7 L762.7,308.5 L764.1,308.3 L765.5,308.4 L766.9,308.3 L768.3,307.9 L769.7,308.4 L771.1,308.1 L772.5,307.5 L773.9,307.7 L775.3,308.2 L776.7,308.1 L778.1,307.7 L779.5,307.3 L780.9,307.5 L782.3,307.7 L783.7,307.5 L785.1,307.3 L786.5,307.1 L787.9,307.4 L789.3,307.1 L790.7,307.2 L792.1,307.2 L793.5,307.3 L794.9,307.0 L796.3,307.0 L797.7,306.5 L799.1,307.1 L800.5,307.0 L801.9,306.9 L803.3,306.4 L804.7,306.7 L806.1,306.9 L807.5,307.3 L808.9,307.0 L810.3,307.1 L811.4,307.0" stroke="#ff8000" stroke-width="5.0"/>
<path d="M241.6,16.5 L241.9,17.3 L242.2,19.0 L242.6,20.2 L242.9,21.6 L243.2,23.0 L243.6,24.2 L243.9,25.7 L244.2,27.0 L244.5,28.9 L244.8,29.9 L245.1,31.2 L245.4,32.5 L245.7,33.9 L246.0,35.2 L246.3,36.6 L246.6,38.1 L246.9,39.4 L247.2,40.9 L247.5,42.1 L247.8,43.5 L248.0,45.1 L248.3,46.3 L248.6,47.6 L248.9,49.0 L249.2,50.5 L249.4,52.0 L249.7,53.1 L250.0,54.5 L250.2,56.3 L250.5,56.9 L250.8,58.5 L251.1,60.4 L251.3,61.6 L251.6,62.8 L251.9,64.4 L252.2,64.4 L252.4,67.3 L252.7,67.9 L253.0,69.0 L253.3,71.1 L253.5,72.6 L253.8,73.6 L254.1,74.7 L254.4,76.5 L254.7,77.8 L255.0,79.8 L255.3,80.9 L255.6,82.0 L255.9,83.8 L256.2,84.6 L256.5,85.7 L256.8,87.7 L257.1,89.0 L257.4,90.1 L257.7,91.2 L258.0,93.0 L258.4,93.2 L258.7,95.9 L259.0,97.2 L259.4,97.7 L259.7,99.7 L260.1,100.6 L260.4,102.7 L260.8,102.9 L261.1,104.7 L261.5,106.7 L261.9,108.2 L262.3,108.3 L262.7,110.3 L263.2,111.9 L263.6,112.9 L264.1,115.1 L264.6,115.3 L265.1,117.2 L265.6,117.9 L266.1,120.2 L266.6,120.9 L267.1,122.1 L267.6,122.9 L268.0,125.6 L268.4,126.6 L268.8,127.9 L269.1,129.4 L269.4,130.5 L269.7,131.5 L270.0,132.8 L270.3,134.1 L270.6,136.4 L270.9,136.6 L271.2,138.3 L271.5,139.8 L271.9,141.3 L272.3,142.8 L272.7,143.4 L273.2,144.6 L273.7,146.5 L274.3,148.3 L274.9,149.4 L275.4,150.5 L276.1,151.5 L276.7,153.0 L277.3,154.0 L278.0,155.7 L278.6,156.3 L279.2,157.9 L279.8,159.1 L280.4,160.6 L281.0,161.8 L281.6,164.0 L282.2,164.8 L282.8,166.1 L283.3,166.0 L283.9,167.9 L284.5,169.1 L285.0,170.8 L285.6,171.0 L286.2,173.6 L286.8,174.9 L287.4,175.2 L288.0,176.6 L288.6,177.9 L289.3,179.5 L289.9,180.9 L290.6,182.7 L291.3,183.1 L292.0,184.7 L292.6,185.7 L293.3,187.5 L294.0,188.3 L294.7,189.8 L295.5,190.0 L296.2,191.6 L296.9,192.5 L297.6,194.6 L298.4,195.5 L299.1,196.3 L299.8,197.4 L300.5,199.0 L301.3,199.7 L302.0,200.8 L302.7,202.6 L303.5,204.6 L304.2,204.7 L304.9,205.8 L305.6,206.7 L306.3,207.9 L307.0,209.8 L307.7,211.2 L308.4,212.0 L309.2,213.4 L309.9,214.5 L310.6,215.7 L311.3,216.2 L312.0,217.9 L312.7,219.3 L313.5,220.1 L314.3,221.4 L315.1,222.4 L315.9,223.7 L316.8,225.3 L317.7,225.9 L318.6,227.0 L319.5,228.5 L320.4,229.5 L321.3,231.0 L322.2,230.5 L323.1,232.8 L324.0,233.3 L325.0,234.6 L325.9,235.9 L326.8,237.0 L327.8,238.1 L328.7,238.8 L329.6,240.4 L330.5,240.8 L331.4,241.9 L332.3,243.3 L333.2,243.8 L334.1,246.0 L335.1,246.6 L336.0,248.0 L337.0,248.2 L338.0,249.0 L339.0,250.2 L340.1,251.3 L341.1,251.7 L342.2,253.0 L343.3,253.8 L344.4,255.3 L345.5,255.2 L346.6,256.7 L347.7,256.9 L348.8,257.6 L350.0,258.5 L351.1,259.1 L352.3,260.4 L353.5,261.5 L354.7,261.9 L355.9,262.7 L357.2,263.8 L358.4,263.9 L359.7,264.5 L361.0,264.8 L362.3,264.9 L363.5,266.3 L364.9,265.8 L366.2,267.1 L367.6,267.2 L368.9,268.0 L370.3,267.9 L371.7,267.9 L373.0,268.7 L374.4,268.6 L375.7,269.1 L377.1,269.4 L378.5,269.6 L379.9,269.8 L381.3,269.8 L382.7,270.2 L384.0,269.6 L385.4,270.5 L386.8,270.2 L388.2,271.2 L389.6,271.3 L391.0,270.0 L392.4,270.8 L393.8,270.6 L395.2,270.2 L396.6,270.7 L398.0,270.2 L399.4,269.6 L400.8,270.1 L402.2,270.0 L403.6,270.0 L405.0,269.3 L406.4,269.8 L407.8,269.7 L409.1,268.7 L410.5,268.7 L411.9,268.7 L413.3,268.2 L414.7,268.9 L416.0,268.0 L417.4,267.2 L418.8,267.1 L420.2,267.1 L421.6,267.9 L422.9,266.7 L424.3,266.7 L425.7,266.7 L427.1,266.3 L428.5,267.1 L429.9,265.8 L431.3,266.2 L432.7,265.8 L434.1,265.7 L435.4,264.8 L436.8,265.7 L438.2,264.6 L439.5,264.4 L440.9,263.7 L442.3,263.4 L443.6,263.5 L445.0,263.3 L446.3,262.8 L447.6,262.6 L449.0,262.0 L450.3,261.3 L451.7,261.2 L453.0,260.7 L454.3,260.0 L455.7,259.9 L457.0,259.7 L458.3,258.8 L459.7,258.2 L461.0,258.2 L462.3,258.3 L463.7,257.0 L465.0,256.7 L466.4,256.3 L467.7,256.5 L469.1,254.9 L470.5,255.5 L471.8,255.5 L473.2,254.4 L474.5,255.0 L475.9,254.2 L477.2,253.3 L478.5,253.1 L479.8,251.8 L481.0,251.4 L482.1,251.5 L483.1,249.5 L484.2,249.7 L485.3,248.1 L486.5,247.9 L487.8,246.9 L489.1,245.5 L490.5,245.8 L491.8,245.7 L493.2,244.9 L494.6,244.5 L495.9,244.8 L497.3,244.1 L498.6,243.3 L500.0,243.4 L501.3,243.6 L502.6,242.5 L503.9,242.6 L505.2,242.2 L506.4,241.0 L507.7,239.9 L508.9,239.2 L510.2,239.1 L511.5,238.9 L512.8,238.1 L514.1,237.7 L515.4,236.8 L516.7,236.7 L518.0,235.9 L519.3,235.4 L520.6,234.6 L522.0,233.9 L523.2,233.8 L524.5,233.1 L525.8,232.6 L527.1,232.7 L528.5,231.9 L529.8,232.7 L531.1,231.5 L532.5,230.5 L533.9,230.8 L535.2,230.5 L536.6,229.9 L538.0,230.4 L539.4,229.4 L540.7,228.1 L542.1,229.2 L543.4,228.2 L544.7,228.5 L546.0,227.1 L547.3,226.3 L548.5,226.9 L549.9,225.3 L551.2,225.4 L552.6,225.6 L553.9,224.8 L555.3,224.5 L556.7,224.4 L558.1,224.5 L559.5,223.7 L560.9,224.0 L562.2,223.8 L563.6,224.2 L565.0,222.7 L566.3,222.1 L567.6,222.3 L568.9,221.3 L570.3,221.2 L571.6,220.7 L572.9,220.7 L574.3,219.6 L575.6,219.5 L577.0,218.2 L578.4,218.5 L579.7,219.1 L581.1,217.9 L582.4,217.6 L583.8,217.1 L585.2,217.4 L586.5,216.9 L587.9,216.1 L589.3,216.5 L590.6,216.2 L592.0,216.4 L593.4,215.9 L594.8,217.0 L596.2,216.6 L597.6,216.5 L599.0,216.5 L600.4,216.6 L601.8,216.8 L603.2,216.1 L604.5,216.1 L605.8,215.4 L607.2,215.5 L608.6,215.5 L609.9,215.5 L611.2,215.2 L612.6,216.4 L614.0,216.8 L615.4,216.5 L616.7,216.4 L618.1,215.6 L619.4,215.2 L620.8,214.5 L622.1,215.0 L623.4,214.2 L624.8,213.8 L626.2,213.5 L627.6,214.3 L628.8,215.6 L630.1,215.8 L631.4,215.8 L632.8,216.9 L634.2,217.0 L635.6,217.1 L636.9,217.4 L638.1,218.2 L639.4,218.6 L640.6,219.3 L642.0,219.1 L643.3,220.3 L644.7,220.1 L646.1,221.0 L647.5,219.6 L648.9,220.9 L650.2,221.3 L651.6,221.0 L653.0,221.7 L654.3,222.1 L655.7,222.4 L657.0,222.4 L658.4,223.0 L659.7,223.9 L661.0,224.4 L662.3,224.4 L663.6,224.9 L665.0,225.4 L666.3,226.2 L667.6,225.8 L668.9,226.2 L670.2,227.2 L671.6,227.2 L672.9,227.8 L674.2,228.5 L675.6,229.1 L676.9,228.9 L678.2,230.1 L679.6,229.4 L680.9,230.7 L682.3,230.2 L683.6,230.7 L685.0,231.8 L686.4,231.7 L687.7,231.9 L689.1,232.4 L690.5,233.0 L691.8,233.1 L693.2,233.4 L694.6,234.0 L696.0,233.6 L697.3,233.9 L698.7,234.1 L700.1,235.0 L701.5,235.1 L702.9,235.3 L704.3,235.0 L705.7,235.0 L707.1,235.5 L708.5,235.1 L709.9,235.7 L711.3,235.7 L712.7,235.2 L714.1,235.5 L715.5,235.5 L716.9,236.3 L718.3,236.7 L719.7,235.6 L721.1,235.6 L722.5,234.7 L723.9,235.7 L725.3,235.6 L726.7,235.1 L728.1,235.8 L729.5,234.9 L730.9,235.4 L732.3,235.5 L733.7,234.9 L735.1,235.7 L736.5,235.7 L737.9,234.7 L739.3,234.6 L740.7,235.4 L742.1,235.1 L743.5,234.6 L744.9,235.0 L746.3,235.0 L747.7,235.0 L749.1,235.4 L750.5,235.2 L751.9,235.8 L753.3,235.6 L754.7,235.3 L756.1,235.5 L757.5,235.6 L758.9,235.3 L760.3,234.6 L761.7,235.4 L763.1,235.0 L764.5,235.6 L765.9,235.0 L767.3,235.1 L768.7,235.0 L770.1,235.5 L771.5,234.8 L772.9,234.6 L774.3,234.7 L775.6,234.4 L777.0,234.6 L778.4,234.5 L779.8,234.6 L781.2,235.2 L782.6,234.0 L784.0,233.8 L785.4,233.6 L786.7,234.3 L788.0,234.1 L789.4,234.6 L790.8,234.9 L792.1,235.0 L793.5,234.6 L794.9,234.2 L796.3,233.9 L797.7,234.4 L799.1,234.9 L800.5,234.5 L801.9,234.6 L803.3,234.8 L804.7,234.3 L806.1,234.6 L807.5,234.7 L808.9,234.8 L810.3,234.5 L811.5,234.2" stroke="#ff00ff" stroke-width="5.0"/>
<path d="M299.2,16.2 L299.6,17.7 L300.0,18.5 L300.4,19.3 L300.9,20.8 L301.3,21.6 L301.7,23.7 L302.1,25.8 L302.8,25.6 L303.4,26.6 L304.1,28.6 L304.8,29.6 L305.4,30.5 L306.1,30.8 L306.8,32.6 L307.5,34.3 L308.1,33.9 L308.8,35.7 L309.5,35.7 L309.9,37.4 L310.2,38.2 L310.5,40.7 L310.8,41.2 L311.1,43.6 L311.5,44.8 L311.8,45.8 L312.1,45.3 L313.0,47.6 L314.0,48.8 L315.1,49.7 L316.1,49.2 L317.1,50.8 L317.9,51.5 L318.7,52.6 L319.5,55.1 L320.3,54.7 L321.0,56.4 L321.6,58.2 L322.2,58.3 L322.7,59.8 L323.3,61.1 L323.9,62.2 L324.5,62.4 L325.1,64.6 L325.6,66.7 L326.2,65.7 L326.8,68.7 L327.4,69.3 L328.0,69.9 L328.7,72.9 L329.7,72.8 L330.6,72.2 L331.6,74.0 L332.6,75.3 L333.2,75.8 L333.8,77.6 L334.4,78.2 L335.0,79.9 L335.7,81.7 L336.3,81.2 L336.9,83.0 L337.5,83.6 L338.2,85.2 L338.8,85.4 L339.5,86.9 L340.1,88.4 L340.7,90.3 L341.8,91.2 L343.0,89.9 L344.2,90.9 L345.3,92.5 L346.2,91.4 L347.0,93.6 L347.7,95.0 L348.4,97.1 L349.2,97.7 L350.0,97.9 L351.1,98.6 L352.2,99.5 L353.2,101.6 L354.3,100.9 L355.3,101.7 L356.2,103.1 L356.9,103.9 L357.6,104.9 L358.3,105.3 L359.1,107.2 L359.8,107.9 L360.5,110.2 L361.5,110.5 L362.8,110.5 L364.0,111.5 L365.2,111.3 L366.4,112.8 L367.6,112.5 L368.8,113.4 L370.0,112.5 L371.2,114.2 L372.4,113.1 L373.6,113.4 L374.7,115.3 L375.9,115.5 L377.0,116.9 L378.2,119.1 L379.3,117.5 L380.4,118.3 L381.5,119.6 L382.7,120.3 L383.9,120.2 L385.1,120.5 L386.3,120.6 L387.4,119.8 L388.2,119.6 L389.0,121.4 L389.7,122.5 L390.5,122.8 L391.4,123.9 L392.5,122.4 L393.6,123.1 L394.8,121.9 L395.9,121.2 L397.1,120.5 L398.2,121.4 L399.4,120.6 L400.6,121.3 L401.7,121.8 L402.9,119.4 L404.0,121.8 L405.1,120.6 L406.1,122.7 L407.0,120.6 L408.0,120.9 L408.8,119.4 L409.4,117.1 L410.1,118.0 L410.6,118.3 L410.9,118.4 L411.2,119.5 L411.6,120.9 L411.9,121.5 L412.2,124.3 L412.6,124.3 L413.0,123.8 L413.6,122.1 L414.1,121.0 L414.6,119.3 L415.1,120.0 L416.2,119.6 L417.2,121.2 L418.2,120.1 L419.1,118.7 L420.0,118.0 L421.3,117.6 L422.6,117.9 L423.9,117.6 L425.1,118.1 L426.3,117.8 L427.2,119.0 L428.0,121.9 L428.7,121.3 L429.5,122.0 L430.4,123.0 L431.3,122.8 L432.2,119.8 L433.2,120.6 L434.3,121.0 L435.4,120.8 L436.7,122.6 L438.0,122.1 L438.9,121.3 L439.8,119.7 L440.7,119.7 L441.9,118.4 L443.1,118.3 L444.3,117.7 L445.6,118.0 L446.5,119.4 L447.3,117.0 L448.2,116.6 L449.0,115.4 L449.9,114.1 L450.8,113.2 L451.8,113.2 L453.0,112.1 L454.3,111.8 L455.4,111.4 L456.4,111.4 L457.4,110.2 L458.4,109.1 L459.6,108.5 L460.9,108.1 L462.2,110.0 L463.4,109.4 L464.5,108.1 L465.8,108.2 L467.0,108.0 L468.2,108.4 L469.5,108.9 L470.7,107.6 L472.0,108.8 L472.7,105.6 L473.5,106.1 L474.2,104.8 L475.0,104.1 L476.0,103.9 L476.9,102.7 L478.1,100.3 L479.3,99.5 L479.9,100.3 L480.4,97.7 L480.9,97.2 L481.5,96.7 L482.0,93.6 L482.6,92.2 L483.3,92.8 L484.2,92.2 L485.3,92.6 L486.5,93.0 L487.8,92.0 L489.0,91.3 L490.2,92.7 L491.5,92.3 L492.6,91.2 L493.8,92.3 L495.0,91.3 L496.1,91.0 L497.3,89.5 L498.6,89.4 L499.0,90.2 L499.2,91.5 L499.5,93.6 L500.1,92.1 L500.8,91.8 L501.4,90.7 L502.1,90.8 L502.7,87.1 L503.3,87.7 L503.9,85.8 L504.6,84.8 L505.5,82.8 L506.4,82.6 L507.3,82.6 L508.3,81.0 L509.2,80.2 L510.3,79.8 L511.5,81.3 L512.5,80.1 L513.4,77.4 L514.3,78.5 L515.3,78.3 L516.3,78.1 L517.4,79.4 L518.5,80.1 L519.4,78.3 L520.4,76.5 L521.3,75.7 L522.5,76.8 L523.5,75.3 L524.4,74.3 L525.4,73.3 L526.3,72.5 L527.1,74.0 L527.8,74.8 L528.6,75.6 L529.3,75.7 L530.3,76.1 L531.3,74.3 L532.3,74.8 L533.5,72.6 L534.7,72.9 L535.8,72.4 L536.5,70.3 L537.2,71.5 L537.9,70.3 L538.7,67.8 L539.5,67.7 L540.3,66.3 L541.2,64.3 L542.1,67.4 L543.0,68.1 L543.8,67.3 L544.6,65.4 L545.3,65.0 L546.2,64.1 L547.1,64.2 L548.1,62.6 L549.3,62.7 L550.5,64.3 L551.7,63.1 L553.0,63.7 L553.8,63.6 L554.6,67.2 L555.4,67.8 L556.1,67.3 L556.8,66.0 L557.6,64.6 L558.4,64.0 L559.6,64.2 L560.7,64.5 L561.1,63.5 L561.5,63.4 L561.9,61.4 L562.3,59.7 L562.7,58.1 L563.1,56.8 L563.5,57.2 L563.8,55.1 L564.1,53.5 L564.4,52.0 L564.7,50.1 L565.2,49.7 L565.6,49.2 L566.1,47.0 L566.5,46.6 L566.7,47.9 L566.8,49.5 L567.0,49.5 L567.2,51.8 L567.3,52.6 L567.5,55.2 L567.6,55.2 L567.8,57.5 L568.0,59.5 L568.1,59.5 L568.7,58.3 L569.3,57.8 L569.8,56.5 L570.4,54.6 L571.3,54.7 L572.4,55.2 L573.4,52.7 L574.3,51.8 L575.2,50.3 L576.3,50.7 L577.6,49.1 L578.4,48.4 L578.9,48.9 L579.3,46.1 L579.8,46.4 L580.2,45.5 L580.7,43.3 L581.5,44.6 L582.3,46.7 L583.0,46.1 L584.2,45.7 L585.4,44.7 L586.6,45.3 L587.9,46.0 L588.6,44.7 L589.2,42.1 L589.8,41.0 L590.4,40.1 L590.9,40.5 L591.2,41.4 L591.5,43.0 L591.8,44.3 L592.2,45.1 L592.5,46.5 L592.8,48.0 L593.5,47.3 L594.4,46.8 L595.2,46.8 L596.0,44.8 L596.7,43.3 L597.3,40.9 L598.0,41.3 L598.9,39.6 L600.0,40.7 L601.1,42.8 L602.4,42.3 L603.5,41.0 L604.2,38.8 L604.9,38.7 L605.8,37.5 L606.6,37.5 L607.3,38.6 L607.8,38.3 L608.3,38.7 L608.8,39.7 L609.4,41.3 L610.7,40.8 L611.9,39.9 L613.0,41.4 L614.2,41.1 L615.3,42.1 L616.5,41.5 L617.2,40.5 L617.9,38.2 L618.5,37.8 L619.3,36.3 L620.4,35.5 L621.6,35.0 L622.1,35.4 L622.6,36.5 L623.1,39.4 L623.6,39.9 L624.1,41.4 L625.1,42.8 L626.1,41.5 L627.3,42.7 L628.5,43.9 L629.7,43.9 L630.8,42.6 L631.8,43.2 L632.8,43.5 L633.7,43.3 L634.6,44.5 L635.5,46.7 L636.4,47.4 L637.5,46.3 L638.7,49.3 L639.9,49.3 L641.0,50.4 L642.3,49.6 L643.5,50.1 L644.6,50.0 L645.8,53.3 L646.4,50.2 L646.9,50.4 L647.4,47.5 L647.9,46.9 L648.5,46.0 L649.0,48.2 L649.6,50.4 L650.3,49.6 L651.5,51.0 L652.7,49.9 L653.3,47.8 L654.0,47.1 L654.7,46.0 L655.2,46.0 L655.5,46.9 L655.9,48.0 L656.2,49.6 L656.5,50.4 L656.9,51.3 L658.1,51.8 L659.3,52.1 L660.5,50.9 L661.7,52.5 L662.9,52.4 L663.9,52.9 L664.7,55.3 L665.5,55.4 L666.2,57.9 L667.0,57.3 L667.7,59.3 L668.4,59.9 L669.5,60.2 L670.6,61.7 L671.9,61.6 L673.1,62.3 L673.4,60.6 L673.6,58.5 L673.9,58.0 L674.2,56.9 L674.5,56.3 L674.8,54.6 L675.1,56.5 L675.3,56.5 L675.6,59.6 L675.8,59.6 L676.1,60.3 L676.3,62.9 L676.6,65.0 L676.9,64.3 L677.6,63.9 L678.3,63.2 L679.1,61.8 L680.1,62.1 L681.2,60.5 L682.1,60.5 L682.5,62.7 L683.0,62.9 L683.5,65.0 L684.6,63.6 L685.7,62.8 L686.3,63.4 L686.8,67.4 L687.3,66.9 L688.0,68.4 L689.2,68.6 L690.4,69.1 L691.7,69.0 L693.0,70.3 L694.0,67.2 L695.0,66.0 L696.2,66.0 L697.5,65.5 L697.8,68.3 L698.2,69.6 L698.6,69.5 L699.0,70.4 L699.3,72.5 L699.6,73.4 L699.9,69.0 L700.2,70.2 L700.5,67.7 L700.8,68.1 L701.1,65.2 L701.4,64.5 L701.8,64.0 L702.4,65.5 L702.9,68.5 L703.5,69.2 L704.5,69.0 L705.7,69.1 L706.3,69.4 L706.9,71.7 L707.5,73.2 L708.1,74.3 L709.0,74.4 L710.1,73.0 L711.2,73.1 L712.5,73.4 L713.8,74.6 L715.0,74.8 L716.3,73.0 L717.0,71.5 L717.8,70.9 L718.6,69.5 L719.6,68.6 L720.6,68.3 L721.4,66.5 L722.1,66.6 L722.7,65.0 L723.5,65.8 L724.3,66.5 L725.0,67.2 L726.0,67.0 L727.1,66.9 L728.2,65.9 L729.3,65.8 L730.4,65.6 L731.6,65.2 L732.8,66.8 L734.0,66.1 L735.1,67.2 L736.2,68.2 L737.2,67.7 L737.8,70.4 L738.5,71.6 L739.3,71.4 L740.3,70.4 L741.3,69.5 L742.4,68.5 L743.6,68.5 L744.8,68.7 L746.0,69.8 L747.2,69.2 L748.4,70.7 L749.7,70.8 L751.0,70.6 L752.1,71.0 L753.1,72.6 L754.1,71.7 L754.9,72.7 L755.6,71.5 L756.4,70.5 L757.4,69.7 L758.4,68.1 L759.3,67.5 L760.2,67.2 L761.2,66.2 L761.8,66.7 L762.4,66.6 L763.0,69.3 L763.5,68.7 L763.9,67.4 L764.4,65.6 L764.9,63.1 L765.5,65.6 L766.1,65.9 L766.7,65.3 L767.3,68.3 L768.2,66.0 L769.0,65.9 L769.4,67.7 L769.8,70.3 L770.2,70.3 L770.7,71.4 L771.3,71.3 L771.8,70.1 L772.5,67.7 L773.2,66.5 L773.9,64.6 L774.6,64.7 L775.1,66.7 L775.7,67.8 L776.2,68.8 L777.3,69.4 L778.5,67.7 L779.7,68.5 L780.9,69.7 L782.2,69.7 L783.4,69.9 L784.4,68.6 L785.2,67.0 L785.8,66.4 L785.9,64.1 L786.1,62.4 L786.2,62.7 L786.4,61.0 L786.5,59.9 L786.7,57.1 L786.8,59.2 L786.9,60.3 L787.1,61.4 L787.2,61.7 L787.3,64.4 L787.4,66.6 L787.6,67.5 L787.7,68.1 L787.9,69.8 L788.0,71.7 L788.2,70.3 L788.3,73.6 L788.7,74.2 L789.2,73.1 L789.6,72.6 L790.1,71.0 L790.6,69.3 L791.4,70.3 L792.2,71.7 L793.0,71.8 L794.2,72.3 L795.4,73.3 L796.7,74.2 L798.0,72.7 L799.3,73.1 L800.5,73.6 L801.7,73.9 L802.7,73.0 L803.6,75.1 L804.5,74.2 L805.5,75.6 L806.5,75.1 L807.5,75.0 L808.7,75.0 L809.9,73.2 L811.2,74.7" stroke="#ff0000" stroke-width="5.0"/>
</g>
<g font-family="Liberation Sans, sans-serif" font-size="37" fill="#000" opacity="0.999">
<text transform="translate(142.03,459.95) scale(1,1.075)">0</text>
<text transform="translate(80.31,351.96) scale(1,1.075)">2500</text>
<text transform="translate(80.31,243.97) scale(1,1.075)">5000</text>
<text transform="translate(80.31,135.99) scale(1,1.075)">7500</text>
<path transform="translate(59.74,28.00) scale(37,39.775)" d="M0.351,0 H0.254 V-0.505 H0.094 V-0.572 Q0.170,-0.576 0.213,-0.603 Q0.268,-0.640 0.283,-0.7176 H0.351 Z" fill="#000"/>
<text transform="translate(80.31,28.00) scale(1,1.075)">0000</text>
<text transform="translate(162.71,488.40) scale(1,1.075)">0</text>
<text transform="translate(375.41,488.40) scale(1,1.075)">5</text>
<path transform="translate(578.18,488.40) scale(37,39.775)" d="M0.351,0 H0.254 V-0.505 H0.094 V-0.572 Q0.170,-0.576 0.213,-0.603 Q0.268,-0.640 0.283,-0.7176 H0.351 Z" fill="#000"/>
<text transform="translate(598.75,488.40) scale(1,1.075)">0</text>
<path transform="translate(790.88,488.40) scale(37,39.775)" d="M0.351,0 H0.254 V-0.505 H0.094 V-0.572 Q0.170,-0.576 0.213,-0.603 Q0.268,-0.640 0.283,-0.7176 H0.351 Z" fill="#000"/>
<text transform="translate(811.45,488.40) scale(1,1.075)">5</text>
</g>
<g font-family="Liberation Sans, sans-serif" font-size="48" font-weight="bold" fill="#000" stroke="#000" stroke-width="0.7" stroke-linejoin="round" opacity="0.999">
<text transform="translate(257.7,529.7) scale(0.998,1.03)">Execution</text>
<text transform="translate(500.9,529.7) scale(1.0058,1.03)">Time(Min)</text>
<text transform="translate(35.7,232.3) rotate(-90)" text-anchor="middle">Threshold</text>
</g>
</svg>
</body></html>
